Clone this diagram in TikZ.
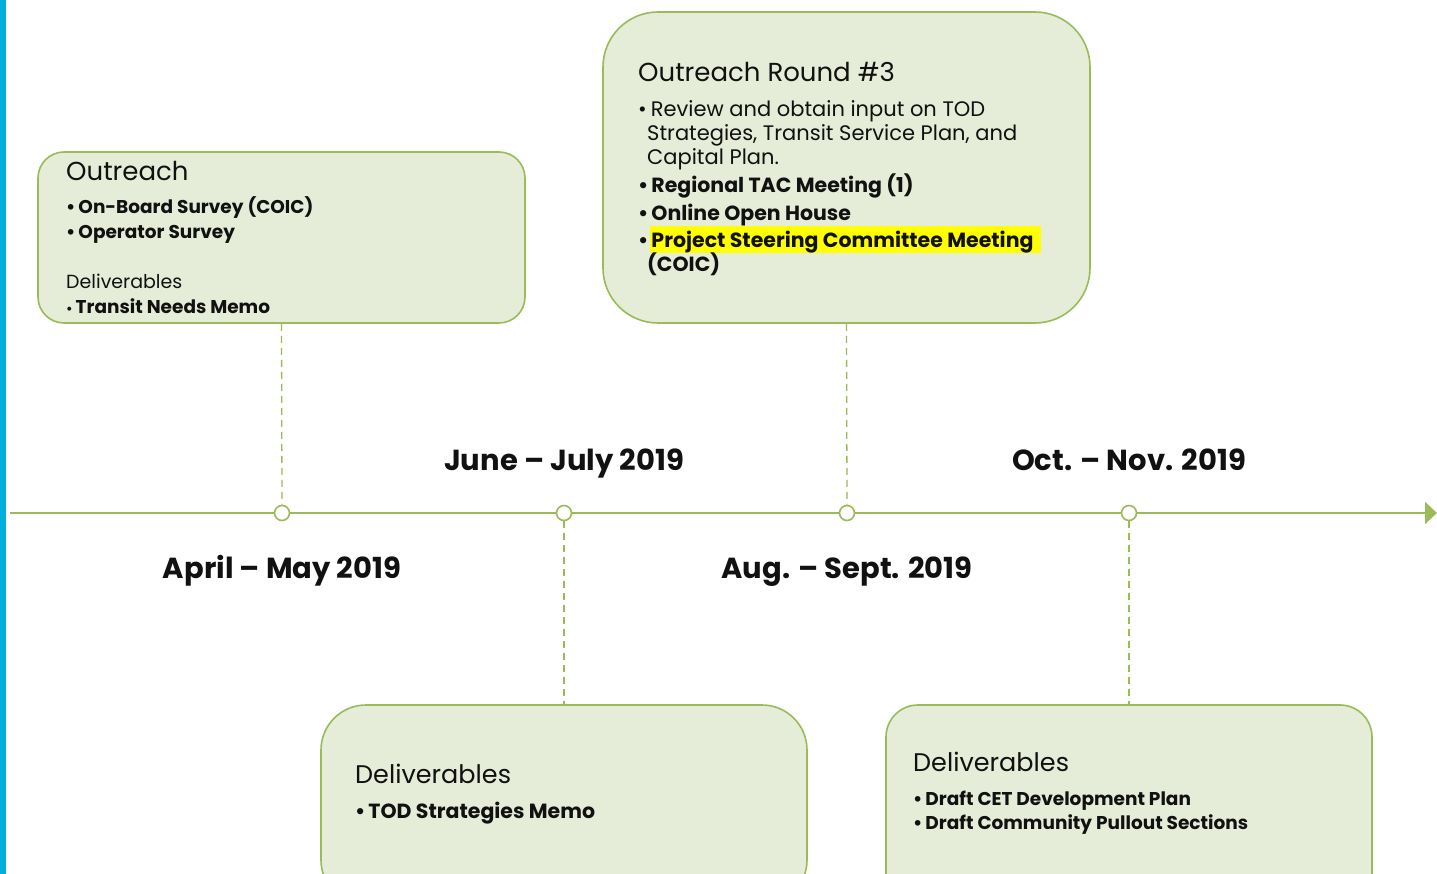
\documentclass[tikz,border=0pt]{standalone}
\usepackage{fontspec}
\setmainfont{Poppins}
\usetikzlibrary{arrows.meta}
\definecolor{tlgreen}{HTML}{9BBB59}
\definecolor{boxfill}{HTML}{E5ECD7}
\definecolor{barblue}{HTML}{00B0DC}
\definecolor{txt}{HTML}{111111}
\definecolor{hl}{HTML}{FFFF00}
\newcommand{\bul}{•\hspace{3pt}}
\tikzset{
  box/.style={draw=tlgreen, line width=1.6pt, fill=boxfill, inner sep=0pt},
  dot/.style={circle, draw=tlgreen, line width=1.6pt, fill=white, minimum size=15pt, inner sep=0pt},
  conn/.style={draw=tlgreen, line width=1.3pt, dash pattern=on 7pt off 5pt},
  tl/.style={draw=tlgreen, line width=1.8pt, -{Triangle[length=12pt,width=22pt]}},
  ln/.style={anchor=base west, inner sep=0pt, text=txt},
  date/.style={anchor=base, inner sep=0pt, text=txt, font=\fontsize{29}{34}\selectfont\bfseries},
}
\begin{document}
\begin{tikzpicture}[x=1pt,y=-1pt]
\clip (0,0) rectangle (1437,874);
\fill[white] (0,0) rectangle (1437,874);
\fill[barblue] (0,0) rectangle (6,874);

% boxes
\node[box, rounded corners=26pt, minimum width=487pt, minimum height=171pt] (b1) at (281.5,237.5) {};
\node[box, rounded corners=55pt, minimum width=487pt, minimum height=311pt] (b2) at (846.5,167.5) {};
\node[box, rounded corners=45pt, minimum width=486pt, minimum height=200pt] (b3) at (564,805) {};
\node[box, rounded corners=32pt, minimum width=486pt, minimum height=200pt] (b4) at (1129,805) {};

% timeline
\coordinate (t0) at (10,513);
\coordinate (t1) at (1437,513);
\draw[tl] (t0) -- (t1);
\node[dot] (d1) at (282,513) {};
\node[dot] (d2) at (564,513) {};
\node[dot] (d3) at (847,513) {};
\node[dot] (d4) at (1129,513) {};

\draw[conn] (b1.south) -- (d1.north);
\draw[conn] (d2.south) -- (b3.north);
\draw[conn] (b2.south) -- (d3.north);
\draw[conn] (d4.south) -- (b4.north);

% dates
\node[date] (j1) at (564,470) {June – July 2019};
\node[date] (j2) at (1129,470) {Oct. – Nov. 2019};
\node[date] (j3) at (282,578) {April – May 2019};
\node[date] (j4) at (847,578) {Aug. – Sept. 2019};

% box 1 text
\node[ln, font=\fontsize{26}{30}\selectfont] (a1) at (66,181) {Outreach};
\node[ln, font=\fontsize{18.5}{22}\selectfont\bfseries] (a2) at (66,214) {\bul On-Board Survey (COIC)};
\node[ln, font=\fontsize{18.5}{22}\selectfont\bfseries] (a3) at (66,239) {\bul Operator Survey};
\node[ln, font=\fontsize{19}{22}\selectfont] (a4) at (66,289) {Deliverables};
\node[ln, font=\fontsize{18.5}{22}\selectfont\bfseries] (a5) at (66,314) {\fontsize{13}{16}\selectfont•\hspace{3pt}\fontsize{18.5}{22}\selectfont Transit Needs Memo};

% box 2 text
\fill[hl] (650,226) rectangle (1041,253);
\node[ln, font=\fontsize{26}{30}\selectfont] (c1) at (638,82) {Outreach Round \#3};
\node[ln, font=\fontsize{21}{24}\selectfont] (c2) at (638,117) {•\hspace{4pt}Review and obtain input on TOD};
\node[ln, font=\fontsize{21}{24}\selectfont] (c3) at (647,141) {Strategies, Transit Service Plan, and};
\node[ln, font=\fontsize{21}{24}\selectfont] (c4) at (647,165) {Capital Plan.};
\node[ln, font=\fontsize{20.5}{24}\selectfont\bfseries] (c5) at (638,193) {\bul Regional TAC Meeting (1)};
\node[ln, font=\fontsize{20.5}{24}\selectfont\bfseries] (c6) at (638,221) {\bul Online Open House};
\node[ln, font=\fontsize{20.5}{24}\selectfont\bfseries] (c7) at (638,248) {\bul Project Steering Committee Meeting};
\node[ln, font=\fontsize{20.5}{24}\selectfont\bfseries] (c8) at (647,272) {(COIC)};

% box 3 text
\node[ln, font=\fontsize{25.5}{30}\selectfont] (e1) at (355,783) {Deliverables};
\node[ln, font=\fontsize{20.5}{24}\selectfont\bfseries] (e2) at (355,818) {\bul TOD Strategies Memo};

% box 4 text
\node[ln, font=\fontsize{25.5}{30}\selectfont] (f1) at (913,771) {Deliverables};
\node[ln, font=\fontsize{18.5}{22}\selectfont\bfseries] (f2) at (913,805) {\bul Draft CET Development Plan};
\node[ln, font=\fontsize{18.5}{22}\selectfont\bfseries] (f3) at (913,829) {\bul Draft Community Pullout Sections};
\end{tikzpicture}
\end{document}
